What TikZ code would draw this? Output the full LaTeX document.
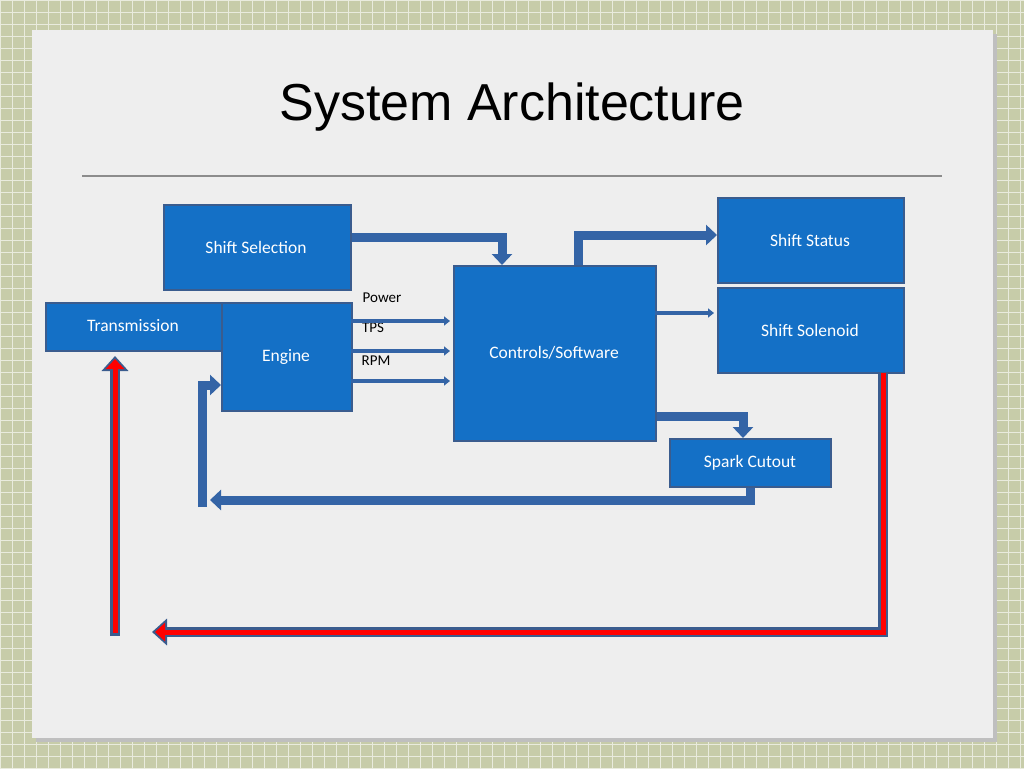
\documentclass[tikz,border=0pt]{standalone}
\usepackage{fontspec}
\setmainfont{Carlito}
\newfontfamily\titlefont{Liberation Sans}
\usetikzlibrary{arrows.meta}
\definecolor{boxblue}{HTML}{1470C6}
\definecolor{edgeblue}{HTML}{3A5C8E}
\definecolor{linkblue}{HTML}{3464A6}
\definecolor{slidebg}{HTML}{EEEEEE}
\definecolor{gridbg}{HTML}{C7CCA9}
\tikzset{
  block/.style={draw=edgeblue, line width=1.5pt, fill=boxblue},
  btext/.style={text=white, font=\fontsize{17.5}{20}\selectfont},
  fat/.style={draw=linkblue, line width=9pt, -{Triangle[width=20pt,length=11pt]}},
  thin/.style={draw=linkblue, line width=4pt, -{Triangle[width=9pt,length=6pt]}},
  lbl/.style={font=\fontsize{15}{17}\selectfont, text=black}
}
\begin{document}
\begin{tikzpicture}[x=1pt,y=-1pt]
\fill[gridbg] (0,0) rectangle (1024,768);
\useasboundingbox (0,0) rectangle (1024,768);
\foreach \g in {0,12,...,1024}
  \draw[white!60!gridbg, line width=0.6pt] (\g,0) -- (\g,768);
\foreach \g in {0,12,...,768}
  \draw[white!60!gridbg, line width=0.6pt] (0,\g) -- (1024,\g);
\fill[black!25] (36,34) rectangle (997,742);
\fill[slidebg] (32,30) rectangle (993,738);
\node[font=\titlefont\fontsize{52}{56}\selectfont] (title) at (512,107) {System Architecture};
\draw[black!45, line width=1.2pt] (82,176) -- (942,176);
% blocks
\node[block, minimum width=187pt, minimum height=85pt, anchor=north west] (sel) at (163,204) {};
\node[btext] (seltext) at (256,247) {Shift Selection};
\node[block, minimum width=177pt, minimum height=48pt, anchor=north west] (trans) at (45,302) {};
\node[btext] (transtext) at (133,326) {Transmission};
\node[block, minimum width=130pt, minimum height=108pt, anchor=north west] (eng) at (221,302) {};
\node[btext] (engtext) at (286,357) {Engine};
\node[block, minimum width=202pt, minimum height=175pt, anchor=north west] (ctrl) at (453,265) {};
\node[btext] (ctrltext) at (554,353) {Controls/Software};
\node[block, minimum width=186pt, minimum height=85pt, anchor=north west] (stat) at (717,197) {};
\node[btext] (stattext) at (810,240) {Shift Status};
\node[block, minimum width=186pt, minimum height=85pt, anchor=north west] (sol) at (717,287) {};
\node[btext] (soltext) at (810,330) {Shift Solenoid};
\node[block, minimum width=161pt, minimum height=48pt, anchor=north west] (spark) at (669,438) {};
\node[btext] (sparktext) at (750,463) {Spark Cutout};
% signal labels
\node[lbl] (power) at (382,298) {Power};
\node[lbl] (tps) at (373,328) {TPS};
\node[lbl] (rpm) at (376,361) {RPM};
% connectors
\coordinate (c1) at (502,237);
\draw[fat] (sel.north east |- c1) -- (c1) -- (c1 |- ctrl.north);
\coordinate (c2) at (578,235);
\draw[fat] (c2 |- ctrl.north) -- (c2) -- (c2 -| stat.west);
\foreach \yy in {321,351,381}
  \draw[thin] (351,\yy) -- (450,\yy);
\draw[thin] (655,313) -- (714,313);
\coordinate (c3) at (743,416);
\draw[fat] (c3 -| ctrl.east) -- (c3) -- (c3 |- spark.north);
\coordinate (c4) at (750,500);
\coordinate (c5) at (210,500);
\draw[fat] (c4 |- spark.south) -- (c4) -- (c5);
\coordinate (c6) at (202,507);
\coordinate (c7) at (202,385);
\draw[fat] (c6) -- (c7) -- (c7 -| eng.west);
% red feedback
\coordinate (r1) at (883,632);
\coordinate (r2) at (152,632);
\draw[line width=10pt, edgeblue, -{Triangle[width=26pt,length=15pt]}] (r1 |- sol.south) -- (r1) -- (r2);
\draw[line width=5pt, red, -{Triangle[width=18pt,length=10pt]}] ([yshift=1pt]r1 |- sol.south) -- (r1) -- ([xshift=3pt]r2);
\coordinate (r3) at (115,636);
\coordinate (r4) at (115,356);
\draw[line width=10pt, edgeblue, -{Triangle[width=26pt,length=15pt]}] (r3) -- (r4);
\draw[line width=5pt, red, -{Triangle[width=18pt,length=10pt]}] ([yshift=3pt]r3) -- ([yshift=-3pt]r4);
\end{tikzpicture}
\end{document}
